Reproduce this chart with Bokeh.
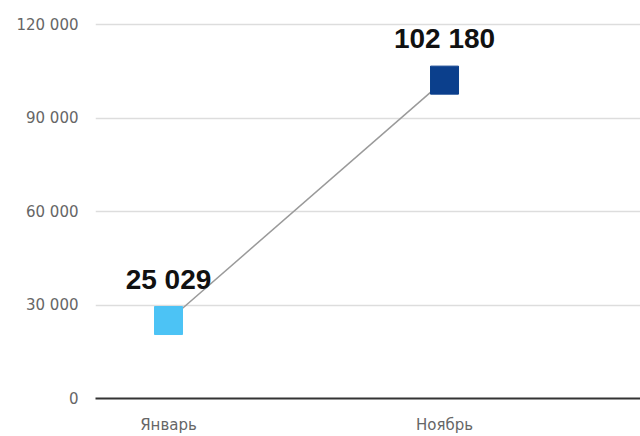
from bokeh.plotting import figure
from bokeh.models import Range1d, FixedTicker, ColumnDataSource
from bokeh.core.properties import value
from bokeh.embed import file_html
from bokeh.resources import INLINE

months = ["Январь", "Ноябрь"]
month_pos = [0, 1]
values = [25029, 102180]
value_labels = ["25 029", "102 180"]
colors = ["#4cc3f5", "#0b3f8c"]
y_ticks = [0, 30000, 60000, 90000, 120000]
y_tick_labels = ["0", "30 000", "60 000", "90 000", "120 000"]

p = figure(width=640, height=436, output_backend="svg", toolbar_location=None,
           x_range=Range1d(-0.2645, 1.71), y_range=Range1d(0, 121000),
           min_border_left=95, min_border_right=0, min_border_top=21, min_border_bottom=36)
p.outline_line_color = None
p.background_fill_color = "white"
p.border_fill_color = "white"

src = ColumnDataSource(dict(x=month_pos, y=values, lab=value_labels, c=colors))

p.line("x", "y", source=src, line_color="#9a9a9a", line_width=1.5)
p.scatter("x", "y", source=src, marker="square", size=28, fill_color="c", line_color="c")
p.text("x", "y", text="lab", source=src, text_align="center", text_baseline="bottom",
       y_offset=-26, text_font=value("Liberation Sans"), text_font_style="bold",
       text_font_size="28px", text_color="#111111")

p.xgrid.grid_line_color = None
p.ygrid.grid_line_color = "#dddddd"
p.ygrid.grid_line_width = 1.5

p.yaxis.ticker = FixedTicker(ticks=y_ticks)
p.yaxis.major_label_overrides = {t: l for t, l in zip(y_ticks, y_tick_labels)}
p.yaxis.axis_line_color = None
p.yaxis.major_tick_line_color = None
p.yaxis.major_tick_out = 0
p.yaxis.major_tick_in = 0
p.yaxis.minor_tick_line_color = None
p.yaxis.minor_tick_out = 0
p.yaxis.major_label_standoff = 17
p.yaxis.major_label_text_font = "DejaVu Sans"
p.yaxis.major_label_text_font_size = "15px"
p.yaxis.major_label_text_color = "#666666"

p.xaxis.ticker = FixedTicker(ticks=month_pos)
p.xaxis.major_label_overrides = {t: l for t, l in zip(month_pos, months)}
p.xaxis.axis_line_color = "#333333"
p.xaxis.axis_line_width = 2
p.xaxis.major_tick_line_color = None
p.xaxis.major_tick_out = 0
p.xaxis.major_tick_in = 0
p.xaxis.minor_tick_line_color = None
p.xaxis.minor_tick_out = 0
p.xaxis.major_label_standoff = 17
p.xaxis.major_label_text_font = "DejaVu Sans"
p.xaxis.major_label_text_font_size = "15px"
p.xaxis.major_label_text_color = "#666666"

open("out.html", "w").write(file_html(p, INLINE))
